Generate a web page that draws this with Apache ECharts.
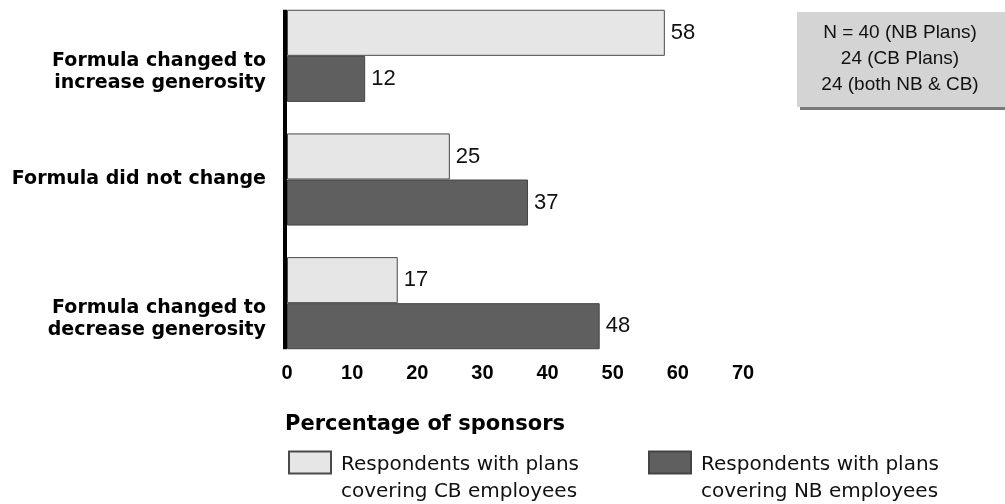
<!DOCTYPE html>
<html>
<head>
<meta charset="utf-8">
<script src="https://cdn.jsdelivr.net/npm/echarts@6/dist/echarts.min.js"></script>
<style>html,body{margin:0;padding:0;background:#fff}#c{width:1005px;height:504px}</style>
</head>
<body>
<div id="c"></div>
<script>
const categories = ['Formula changed to\nincrease generosity', 'Formula did not change', 'Formula changed to\ndecrease generosity'];
const cbValues = [58, 25, 17];
const nbValues = [12, 37, 48];
const seriesNames = ['Respondents with plans\ncovering CB employees', 'Respondents with plans\ncovering NB employees'];
const xTicks = [0, 10, 20, 30, 40, 50, 60, 70];
const noteLines = ['N = 40 (NB Plans)', '24 (CB Plans)', '24 (both NB & CB)'];
const axisTitle = 'Percentage of sponsors';

const chart = echarts.init(document.getElementById('c'), null, {renderer: 'canvas'});
const GAP = 0.255;
const labelStyle = {position: 'right', distance: 6, color: '#111', fontFamily: 'Liberation Sans', fontSize: 22};
const legendText = {
  fontFamily: 'DejaVu Sans', fontSize: 20, color: '#111', padding: [0, 0, 0, 5],
  rich: {
    t: {fontFamily: 'DejaVu Sans', fontSize: 20, color: '#111', lineHeight: 27},
    s: {fontSize: 1, lineHeight: 31}
  }
};
const legendFormatter = function (name) {
  return '{s| }\n' + name.split('\n').map(p => '{t|' + p + '}').join('\n');
};

const option = {
  animation: false,
  backgroundColor: '#fff',
  grid: {left: 287, right: 262, top: -6, height: 371, outerBoundsMode: 'none', containLabel: false},
  title: {
    text: axisTitle, left: 285, top: 414, padding: 0,
    textStyle: {fontFamily: 'DejaVu Sans', fontWeight: 'bold', fontSize: 21, color: '#000'}
  },
  legend: [
    {data: [seriesNames[0]], left: 288, top: 435, padding: 0, itemWidth: 42, itemHeight: 22, icon: 'rect',
     formatter: legendFormatter, textStyle: legendText, selectedMode: false},
    {data: [seriesNames[1]], left: 648, top: 435, padding: 0, itemWidth: 42, itemHeight: 22, icon: 'rect',
     formatter: legendFormatter, textStyle: legendText, selectedMode: false}
  ],
  xAxis: {
    type: 'value', min: xTicks[0], max: xTicks[xTicks.length - 1], interval: 10,
    axisLine: {show: false}, axisTick: {show: false}, splitLine: {show: false},
    axisLabel: {margin: -2, color: '#000', fontFamily: 'Liberation Sans', fontWeight: 'bold', fontSize: 20}
  },
  yAxis: {
    type: 'category', inverse: true, data: categories,
    axisLine: {show: false}, axisTick: {show: false},
    axisLabel: {
      margin: 21, color: '#000',
      formatter: function (v) {
        const parts = v.split('\n');
        if (parts.length > 1) return '{s| }\n' + parts.map(p => '{t|' + p + '}').join('\n');
        return '{t|' + v + '}';
      },
      rich: {
        t: {fontFamily: 'DejaVu Sans', fontWeight: 'bold', fontSize: 19, lineHeight: 22, color: '#000'},
        s: {fontSize: 1, lineHeight: 32}
      }
    }
  },
  series: [
    {name: seriesNames[0], type: 'bar', data: cbValues, barGap: '0%', barCategoryGap: (GAP * 100) + '%',
     itemStyle: {color: '#e6e6e6', borderColor: '#4a4a4a', borderWidth: 1},
     label: Object.assign({show: true}, labelStyle)},
    {name: seriesNames[1], type: 'bar', data: nbValues, barGap: '0%', barCategoryGap: (GAP * 100) + '%',
     itemStyle: {color: '#5f5f5f', borderColor: '#444', borderWidth: 1},
     label: Object.assign({show: true}, labelStyle)}
  ]
};
chart.setOption(option);

const x0 = chart.convertToPixel({xAxisIndex: 0}, 0);
const c0 = chart.convertToPixel({yAxisIndex: 0}, 0);
const c1 = chart.convertToPixel({yAxisIndex: 0}, 1);
const cN = chart.convertToPixel({yAxisIndex: 0}, categories.length - 1);
const half = (c1 - c0) * (1 - GAP) / 2;
chart.setOption({
  graphic: [
    {type: 'line', shape: {x1: x0 - 2, y1: c0 - half, x2: x0 - 2, y2: cN + half}, style: {stroke: '#000', lineWidth: 4}, z: 10},
    {type: 'rect', shape: {x: 797, y: 12, width: 215, height: 95},
     style: {fill: '#d4d4d4', shadowColor: '#7a7a7a', shadowOffsetX: 3, shadowOffsetY: 3, shadowBlur: 0}},
    {type: 'text', x: 900, y: 20,
     style: {text: noteLines.join('\n'), align: 'center', verticalAlign: 'top', font: '19px "Liberation Sans"', lineHeight: 26, fill: '#111'}}
  ]
});
</script>
</body>
</html>
